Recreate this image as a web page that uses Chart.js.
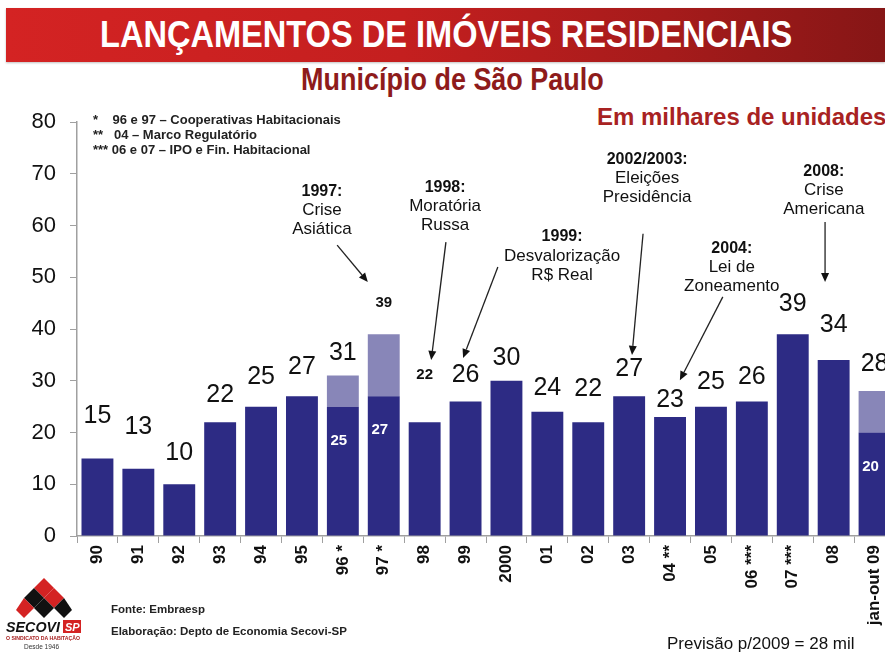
<!DOCTYPE html>
<html>
<head>
<meta charset="utf-8">
<script src="https://cdn.jsdelivr.net/npm/chart.js@4.4.0/dist/chart.umd.min.js"></script>
<style>
  html, body { margin: 0; padding: 0; width: 885px; height: 655px; overflow: hidden; background: #fff; }
  body { position: relative; font-family: "Liberation Sans", Arial, sans-serif; color: #111; }
  #banner {
    position: absolute; left: 6px; top: 8px; width: 879px; height: 54px;
    background: linear-gradient(to right, #d42323 0%, #c41f1f 45%, #a61b1b 75%, #861616 100%);
    box-shadow: 0 1px 2px rgba(0,0,0,0.25);
  }
  #banner div {
    position: absolute; left: 0; right: 0; top: 6px; text-align: center;
    font-weight: bold; font-size: 37px; line-height: 42px; color: #fff;
    transform: scaleX(0.88); transform-origin: 445px 0;
  }
  .txt { position: absolute; white-space: nowrap; }
  #subtitle {
    left: 0; width: 905px; top: 61px; text-align: center;
    font-weight: bold; font-size: 31px; line-height: 38px; color: #8e1b1b;
    transform: scaleX(0.87); transform-origin: 452px 0;
  }
  #unit { left: 597px; top: 103px; font-weight: bold; font-size: 24px; color: #a82222; }
  .note { font-size: 13px; font-weight: bold; line-height: 15px; color: #222; }
  .foot { font-size: 11.5px; font-weight: bold; color: #222; }
  #forecast { left: 667px; top: 634px; font-size: 17px; color: #111; }
  #wrap { position: absolute; left: 0; top: 0; width: 900px; height: 655px; }
</style>
</head>
<body>
<div id="banner"><div>LANÇAMENTOS DE IMÓVEIS RESIDENCIAIS</div></div>
<div id="subtitle" class="txt">Município de São Paulo</div>
<div id="unit" class="txt">Em milhares de unidades</div>

<div id="wrap"><canvas id="launchChart" width="900" height="655"></canvas></div>

<div class="txt note" style="left:93px; top:112px;">*&nbsp;&nbsp;&nbsp; 96 e 97 – Cooperativas Habitacionais</div>
<div class="txt note" style="left:93px; top:127px;">**&nbsp;&nbsp; 04 – Marco Regulatório</div>
<div class="txt note" style="left:93px; top:142px;">*** 06 e 07 – IPO e Fin. Habitacional</div>

<div class="txt foot" style="left:111px; top:603px;">Fonte: Embraesp</div>
<div class="txt foot" style="left:111px; top:625px;">Elaboração: Depto de Economia Secovi-SP</div>
<div id="forecast" class="txt">Previsão p/2009 = 28 mil</div>

<svg style="position:absolute; left:4px; top:576px;" width="82" height="78" viewBox="0 0 82 78">
  <polygon points="40,2 50,12 40,22 30,12" fill="#d42323"/>
  <polygon points="30,12 40,22 30,32 20,22" fill="#111"/>
  <polygon points="50,12 60,22 50,32 40,22" fill="#d42323"/>
  <polygon points="40,22 50,32 40,42 30,32" fill="#111"/>
  <polygon points="20,22 30,32 20,42 12,34" fill="#d42323"/>
  <polygon points="60,22 68,34 60,42 50,32" fill="#111"/>
  <text x="2" y="56" textLength="54" lengthAdjust="spacingAndGlyphs" font-family="Liberation Sans, Arial" font-weight="bold" font-style="italic" font-size="15" fill="#111">SECOVI</text>
  <rect x="59" y="44" width="18" height="13" fill="#d42323"/>
  <text x="61" y="55" font-family="Liberation Sans, Arial" font-weight="bold" font-style="italic" font-size="11" fill="#fff">SP</text>
  <text x="2" y="64" textLength="74" lengthAdjust="spacingAndGlyphs" font-family="Liberation Sans, Arial" font-weight="bold" font-size="5" fill="#a82222">O SINDICATO DA HABITAÇÃO</text>
  <text x="20" y="73" font-family="Liberation Sans, Arial" font-size="6.5" fill="#333">Desde 1946</text>
</svg>

<script>
// Lançamentos residenciais, município de São Paulo (milhares de unidades)
const categories = ['90', '91', '92', '93', '94', '95', '96 *', '97 *', '98', '99', '2000',
  '01', '02', '03', '04 **', '05', '06 ***', '07 ***', '08', 'jan-out 09'];
const baseValues = [15, 13, 10, 22, 25, 27, 25, 27, 22, 26, 30, 24, 22, 27, 23, 25, 26, 39, 34, 20];
// parcela adicional (cooperativas em 96/97, previsão para 2009)
const extraValues = [null, null, null, null, null, null, 6, 12, null, null, null,
  null, null, null, null, null, null, null, null, 8];
const yTicks = [0, 10, 20, 30, 40, 50, 60, 70, 80];

const totals = baseValues.map((v, i) => v + (extraValues[i] || 0));

// distância (px) entre o topo da barra e o rótulo do total
const labelLift = [42, 42, 31, 27, 30, 29, 22, 31, 47, 26, 23, 24, 33, 27, 17, 25, 24, 30, 35, 27];
const smallLabels = [7, 8];

// notas com setas: x em índice de categoria, y em milhares
const events = [
  { lines: ['1997:', 'Crise', 'Asiática'], x: 5.49, y: 66.6, from: [5.86, 56.2], to: [6.61, 49.1] },
  { lines: ['1998:', 'Moratória', 'Russa'], x: 8.5, y: 67.3, from: [8.52, 56.8], to: [8.16, 34.0] },
  { lines: ['1999:', 'Desvalorização', 'R$ Real'], x: 11.36, y: 57.8, from: [9.79, 52.0], to: [8.94, 34.4] },
  { lines: ['2002/2003:', 'Eleições', 'Presidência'], x: 13.44, y: 72.7, from: [13.34, 58.4], to: [13.07, 35.0] },
  { lines: ['2004:', 'Lei de', 'Zoneamento'], x: 15.51, y: 55.5, from: [15.29, 46.2], to: [14.24, 30.1] },
  { lines: ['2008:', 'Crise', 'Americana'], x: 17.76, y: 70.4, from: [17.79, 60.7], to: [17.79, 49.1] }
];

const FONT = '"Liberation Sans", Arial, sans-serif';

const valueLabels = {
  id: 'valueLabels',
  afterDatasetsDraw(chart) {
    const ctx = chart.ctx;
    const x = chart.scales.x, y = chart.scales.y;
    ctx.save();
    ctx.textAlign = 'center';
    ctx.textBaseline = 'middle';
    totals.forEach((t, i) => {
      const cx = x.getPixelForValue(i);
      const top = y.getPixelForValue(t);
      if (smallLabels.includes(i)) {
        ctx.font = 'bold 15px ' + FONT;
      } else {
        ctx.font = '25px ' + FONT;
      }
      ctx.fillStyle = '#111';
      ctx.fillText(String(t), cx, top - labelLift[i]);
      if (extraValues[i]) {
        ctx.font = 'bold 15px ' + FONT;
        ctx.fillStyle = '#fff';
        ctx.fillText(String(baseValues[i]), cx - 4, y.getPixelForValue(baseValues[i]) + 34);
      }
    });
    ctx.restore();
  }
};

const eventNotes = {
  id: 'eventNotes',
  afterDraw(chart) {
    const ctx = chart.ctx;
    const x = chart.scales.x, y = chart.scales.y;
    ctx.save();
    ctx.fillStyle = '#111';
    ctx.strokeStyle = '#222';
    ctx.lineWidth = 1.3;
    ctx.textAlign = 'center';
    ctx.textBaseline = 'middle';
    events.forEach(ev => {
      const tx = x.getPixelForValue(ev.x);
      const ty = y.getPixelForValue(ev.y);
      ev.lines.forEach((line, k) => {
        ctx.font = (k === 0 ? 'bold 16px ' : '17px ') + FONT;
        ctx.fillText(line, tx, ty + k * 19);
      });
      const x1 = x.getPixelForValue(ev.from[0]), y1 = y.getPixelForValue(ev.from[1]);
      const x2 = x.getPixelForValue(ev.to[0]), y2 = y.getPixelForValue(ev.to[1]);
      const a = Math.atan2(y2 - y1, x2 - x1);
      const head = 9, half = 4;
      const bx = x2 - head * Math.cos(a), by = y2 - head * Math.sin(a);
      ctx.beginPath();
      ctx.moveTo(x1, y1);
      ctx.lineTo(bx, by);
      ctx.stroke();
      ctx.beginPath();
      ctx.moveTo(x2, y2);
      ctx.lineTo(bx + half * Math.sin(a), by - half * Math.cos(a));
      ctx.lineTo(bx - half * Math.sin(a), by + half * Math.cos(a));
      ctx.closePath();
      ctx.fill();
    });
    ctx.restore();
  }
};

new Chart(document.getElementById('launchChart').getContext('2d'), {
  type: 'bar',
  data: {
    labels: categories,
    datasets: [
      { label: 'Lançamentos', data: baseValues, backgroundColor: '#2d2b84', borderWidth: 0 },
      { label: 'Adicional', data: extraValues, backgroundColor: '#8886b8', borderWidth: 0 }
    ]
  },
  options: {
    responsive: false,
    animation: false,
    events: [],
    layout: { padding: { top: 122, right: 5, bottom: 0, left: 0 } },
    datasets: { bar: { barPercentage: 0.78, categoryPercentage: 1 } },
    scales: {
      x: {
        stacked: true,
        grid: { offset: true, drawOnChartArea: false, tickLength: 7, color: '#a0a0a0' },
        border: { color: '#a0a0a0', width: 1.5 },
        ticks: {
          minRotation: 90, maxRotation: 90, padding: 2, autoSkip: false,
          color: '#111', font: { family: FONT, size: 17, weight: 'bold' }
        },
        afterFit: s => { s.height = 119; }
      },
      y: {
        stacked: true,
        min: 0, max: 80,
        afterBuildTicks: s => { s.ticks = yTicks.map(v => ({ value: v })); },
        grid: { drawOnChartArea: false, tickLength: 7, color: '#a0a0a0' },
        border: { color: '#a0a0a0', width: 1.5 },
        ticks: { padding: 14, color: '#111', font: { family: FONT, size: 22 } },
        afterFit: s => { s.width = 77; }
      }
    },
    plugins: {
      legend: { display: false },
      tooltip: { enabled: false }
    }
  },
  plugins: [valueLabels, eventNotes]
});
</script>
</body>
</html>
